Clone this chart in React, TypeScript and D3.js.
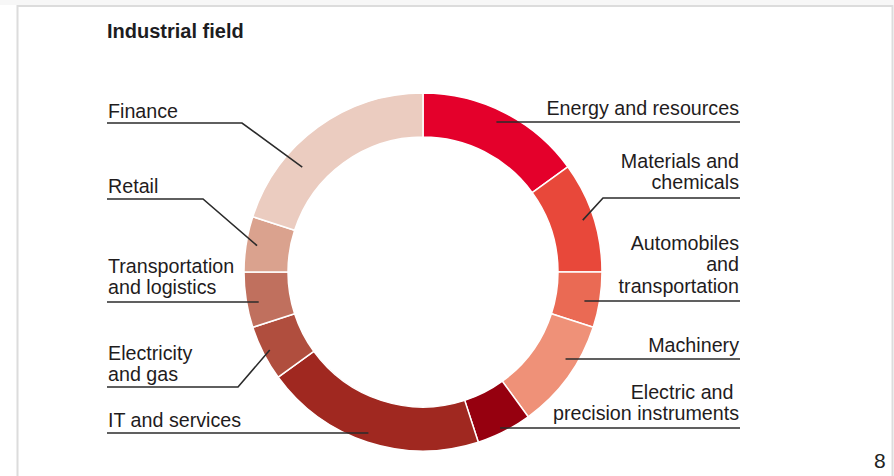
import { useRef, useEffect } from 'react';
import * as d3 from 'd3';

// shares in percent, clockwise from 12 o'clock
const SECTORS = [
  'Energy and resources',
  'Materials and chemicals',
  'Automobiles and transportation',
  'Machinery',
  'Electric and precision instruments',
  'IT and services',
  'Electricity and gas',
  'Transportation and logistics',
  'Retail',
  'Finance',
];
const SHARES = [15, 10, 5, 10, 5, 20, 5, 5, 5, 20];
const COLORS = [
  '#e4002b', '#e8483a', '#ea6a54', '#ef9178', '#96000f',
  '#a02820', '#b04e3e', '#c0705e', '#daa28e', '#ebccc0',
];
// label text split into lines
const LABEL_LINES = [
  ['Energy and resources'],
  ['Materials and', 'chemicals'],
  ['Automobiles', 'and', 'transportation'],
  ['Machinery'],
  ['Electric and\u00a0', 'precision instruments'],
  ['IT and services'],
  ['Electricity', 'and gas'],
  ['Transportation', 'and logistics'],
  ['Retail'],
  ['Finance'],
];

const FONT = '"Liberation Sans", Arial, sans-serif';

export default function App() {
  const svgRef = useRef<SVGSVGElement>(null);

  useEffect(() => {
    const svg = d3.select(svgRef.current);
    svg.selectAll('*').remove();

    const W = 894, H = 476;
    const cx = 423, cy = 272;
    const rOuter = 179, rInner = 135;

    // page frame
    svg.append('rect').attr('x', 0).attr('y', 0).attr('width', W).attr('height', 5).attr('fill', '#f7f7f7');
    svg.append('rect')
      .attr('x', 17.5).attr('y', 6).attr('width', 875).attr('height', H)
      .attr('fill', '#fff').attr('stroke', '#dcdcdc').attr('stroke-width', 2);

    svg.append('text')
      .attr('x', 107).attr('y', 38)
      .style('font-family', FONT).style('font-size', '20px').style('font-weight', 'bold')
      .attr('fill', '#1d1d1f')
      .text('Industrial field');

    const g = svg.append('g').attr('transform', `translate(${cx},${cy})`);

    const data = SECTORS.map((name, i) => ({ name, share: SHARES[i], color: COLORS[i], lines: LABEL_LINES[i] }));

    const pie = d3.pie<any>().sort(null).value(d => d.share);
    const arcs = pie(data);
    const arc = d3.arc<any>().innerRadius(rInner).outerRadius(rOuter);

    g.selectAll('path.slice')
      .data(arcs)
      .enter()
      .append('path')
      .attr('class', 'slice')
      .attr('d', arc)
      .attr('fill', d => d.data.color)
      .attr('stroke', '#fff')
      .attr('stroke-width', 1.5);

    // label layout: side, first baseline, underline y, elbow x (null = straight), anchor radius, angle offset (deg)
    const layout: any = {
      'Energy and resources': { side: 'R', y: 115, uy: 122, elbow: null, r: 167 },
      'Materials and chemicals': { side: 'R', y: 168, uy: 198, elbow: 603, r: 168, off: 0 },
      'Automobiles and transportation': { side: 'R', y: 250, uy: 301, elbow: null, r: 164 },
      'Machinery': { side: 'R', y: 352, uy: 359, elbow: null, r: 167 },
      'Electric and precision instruments': { side: 'R', y: 399, uy: 428, elbow: null, r: 174 },
      'IT and services': { side: 'L', y: 427, uy: 433, elbow: null, r: 170 },
      'Electricity and gas': { side: 'L', y: 360, uy: 387, elbow: 238, r: 172, off: 0 },
      'Transportation and logistics': { side: 'L', y: 273, uy: 302, elbow: null, r: 167 },
      'Retail': { side: 'L', y: 193, uy: 199, elbow: 203, r: 168, off: 0 },
      'Finance': { side: 'L', y: 118, uy: 123, elbow: 242, r: 160, off: -13 },
    };

    const lineH = 21.3;
    const leftX = 107, rightX = 740;

    arcs.forEach(a => {
      const L = layout[a.data.name];
      const right = L.side === 'R';
      const textX = right ? rightX - 1 : leftX + 1;

      const t = svg.append('text')
        .attr('x', textX)
        .attr('text-anchor', right ? 'end' : 'start')
        .style('font-family', FONT).style('font-size', '19.7px')
        .style('white-space', 'pre')
        .attr('fill', '#1f1c1d');
      a.data.lines.forEach((ln: string, i: number) => {
        t.append('tspan').attr('x', textX).attr('y', L.y + i * lineH).text(ln);
      });

      // anchor point inside the slice
      let ax: number, ay: number;
      if (L.elbow == null) {
        const dy = L.uy - cy;
        const dx = Math.sqrt(Math.max(0, L.r * L.r - dy * dy));
        ax = cx + (right ? dx : -dx);
        ay = L.uy;
      } else {
        const ang = (a.startAngle + a.endAngle) / 2 + ((L.off || 0) * Math.PI) / 180;
        ax = cx + L.r * Math.sin(ang);
        ay = cy - L.r * Math.cos(ang);
      }

      const pts: [number, number][] = [[right ? rightX : leftX, L.uy]];
      if (L.elbow != null) pts.push([L.elbow, L.uy]);
      pts.push([ax, ay]);

      svg.append('path')
        .attr('d', d3.line()(pts))
        .attr('fill', 'none')
        .attr('stroke', '#2b2b2b')
        .attr('stroke-width', 1.6);
    });

    // page number
    svg.append('text')
      .attr('x', 874).attr('y', 468)
      .style('font-family', FONT).style('font-size', '21px')
      .attr('fill', '#222')
      .text('8');
  }, []);

  return (
    <svg
      ref={svgRef}
      width={894}
      height={476}
      style={{ position: 'absolute', left: 0, top: 0, display: 'block', background: '#fff' }}
    />
  );
}
